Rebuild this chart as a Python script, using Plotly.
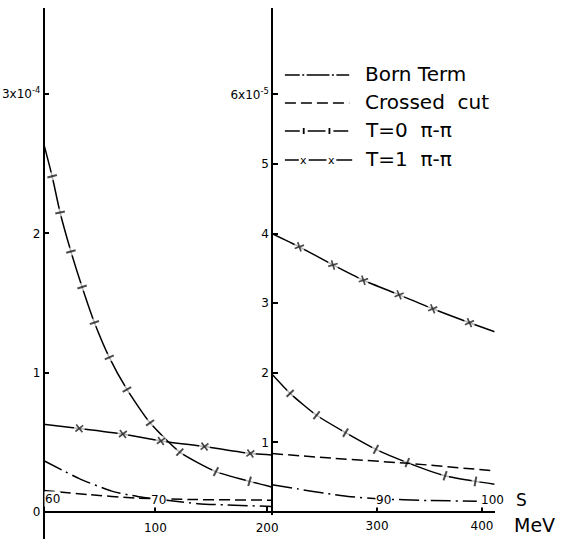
import plotly.graph_objects as go

W, H = 561, 539

# ---- data: left panel (units of 10^-4), s in MeV from 0 to 200 ----
s_t0_left = [0, 7.7, 14.8, 24.5, 34.5, 45.5, 58.8, 74.6, 95.3, 121.9, 154.2, 184.3, 204]
t0_left = [2.65, 2.41, 2.15, 1.87, 1.615, 1.36, 1.11, 0.88, 0.64, 0.43, 0.29, 0.22, 0.18]

s_t1_left = [0, 32, 71, 105, 144, 185, 204]
t1_left = [0.63, 0.60, 0.56, 0.51, 0.47, 0.42, 0.41]

s_cross_left = [0, 40, 82, 130, 204]
cross_left = [0.155, 0.125, 0.10, 0.09, 0.085]

s_born_left = [0, 32, 61, 85, 138, 204]
born_left = [0.37, 0.24, 0.15, 0.11, 0.06, 0.04]

# ---- data: right panel (units of 10^-5), s in MeV from 200 to ~410 ----
s_t1_right = [200, 226, 258, 287, 321, 353, 388, 412]
t1_right = [4.0, 3.81, 3.55, 3.33, 3.12, 2.92, 2.72, 2.59]

s_t0_right = [200, 217.2, 242.4, 270.0, 298.9, 328.8, 364.8, 393.7, 412]
t0_right = [1.98, 1.705, 1.39, 1.14, 0.90, 0.71, 0.52, 0.44, 0.40]

s_cross_right = [200, 260, 329, 412]
cross_right = [0.84, 0.77, 0.70, 0.59]

s_born_right = [200, 225, 250, 275, 300, 350, 395]
born_right = [0.39, 0.33, 0.27, 0.22, 0.19, 0.165, 0.155]

# angle labels written along the Born term curve
born_marks_left = ["60", "70"]
born_marks_left_s = [8, 103]
born_marks_left_v = [0.09, 0.085]
born_marks_right = ["90", "100"]
born_marks_right_s = [306, 410]
born_marks_right_v = [0.17, 0.17]

left_yticks = [0, 1, 2, 3]
left_ytext = ["0", "1", "2", "3x10<sup>-4</sup>"]
right_yticks = [1, 2, 3, 4, 5, 6]
right_ytext = ["1", "2", "3", "4", "5", "6x10<sup>-5</sup>"]
left_xticks = [100, 200]
right_xticks = [300, 400]

legend_names = ["Born Term", "Crossed  cut", "T=0  π-π", "T=1  π-π"]

# ---- styles ----
BORN_DASH = "20px,5px,2px,5px"
CROSS_DASH = "11px,5px"
LW = 1.5
FONT = "DejaVu Sans"


def px(x):
    return x / W


def py(y):
    return 1 - y / H


fig = go.Figure()


def line_trace(xs, ys, dash, xa, ya):
    fig.add_trace(go.Scatter(x=xs, y=ys, xaxis=xa, yaxis=ya, mode="lines",
                             line=dict(color="black", width=LW, dash=dash,
                                       shape="spline", smoothing=0.6),
                             showlegend=False, hoverinfo="skip"))


def gap_marks(xs, ys, xa, ya, gap, symbol, size, width):
    """Break the curve at each interior point and put a mark in the break."""
    inner = [0] + [1] * (len(xs) - 2) + [0]
    # white disc opens a break in the curve
    fig.add_trace(go.Scatter(x=xs, y=ys, xaxis=xa, yaxis=ya, mode="markers",
                             marker=dict(symbol="circle", color="white",
                                         size=[gap * k for k in inner],
                                         line=dict(width=0)),
                             showlegend=False, hoverinfo="skip"))
    fig.add_trace(go.Scatter(x=xs, y=ys, xaxis=xa, yaxis=ya, mode="markers",
                             marker=dict(symbol=symbol, angleref="previous",
                                         size=[size * k for k in inner],
                                         color="black",
                                         line=dict(color="black", width=width)),
                             showlegend=False, hoverinfo="skip"))


# T=0 pi-pi: long strokes with a short cross tick in every break
line_trace(s_t0_left, t0_left, "solid", "x", "y")
gap_marks(s_t0_left, t0_left, "x", "y", 8, "line-ew", 7, 2.0)
line_trace(s_t0_right, t0_right, "solid", "x2", "y2")
gap_marks(s_t0_right, t0_right, "x2", "y2", 8, "line-ew", 7, 2.0)

# T=1 pi-pi: solid curve broken by x marks
line_trace(s_t1_left, t1_left, "solid", "x", "y")
gap_marks(s_t1_left, t1_left, "x", "y", 11, "x-thin-open", 7, 1.7)
line_trace(s_t1_right, t1_right, "solid", "x2", "y2")
gap_marks(s_t1_right, t1_right, "x2", "y2", 11, "x-thin-open", 7, 1.7)

line_trace(s_cross_left, cross_left, CROSS_DASH, "x", "y")
line_trace(s_born_left, born_left, BORN_DASH, "x", "y")
line_trace(s_cross_right, cross_right, CROSS_DASH, "x2", "y2")
line_trace(s_born_right, born_right, BORN_DASH, "x2", "y2")

tickfont = dict(family=FONT, size=12, color="black")
axis_common = dict(showgrid=False, zeroline=False, showline=True,
                   linecolor="black", linewidth=1.6, ticks="inside",
                   ticklen=5, tickwidth=1.5, tickcolor="black",
                   tickfont=tickfont, fixedrange=True)

fig.update_layout(
    width=W, height=H,
    margin=dict(l=0, r=0, t=0, b=0),
    paper_bgcolor="white", plot_bgcolor="white",
    xaxis=dict(domain=[px(44), px(275)], range=[0, 204.4], anchor="free",
               position=27 / H, tickvals=left_xticks, ticklabelstandoff=5,
               **axis_common),
    xaxis2=dict(domain=[px(275), px(500)], range=[200, 412], anchor="free",
                position=27 / H, tickvals=right_xticks, ticklabelstandoff=3,
                **axis_common),
    yaxis=dict(domain=[0, 531 / H], range=[-27 / 139.3, 504 / 139.3],
               anchor="free", position=px(44), tickvals=left_yticks,
               ticktext=left_ytext, **axis_common),
    yaxis2=dict(domain=[24 / H, 531 / H], range=[-3 / 69.6, 504 / 69.6],
                anchor="free", position=px(275), tickvals=right_yticks,
                ticktext=right_ytext, **axis_common),
)

annotations = []
for t, s, v in zip(born_marks_left, born_marks_left_s, born_marks_left_v):
    annotations.append(dict(x=s, y=v, xref="x", yref="y", text=t, showarrow=False,
                            xanchor="center", yanchor="middle",
                            font=dict(family=FONT, size=12, color="black"),
                            bgcolor="white", borderpad=0))
for t, s, v in zip(born_marks_right, born_marks_right_s, born_marks_right_v):
    annotations.append(dict(x=s, y=v, xref="x2", yref="y2", text=t, showarrow=False,
                            xanchor="center", yanchor="middle",
                            font=dict(family=FONT, size=12, color="black"),
                            bgcolor="white", borderpad=0))

annotations.append(dict(x=px(527), y=py(500), xref="paper", yref="paper", text="S",
                        showarrow=False, xanchor="center", yanchor="middle",
                        font=dict(family=FONT, size=17, color="black")))
annotations.append(dict(x=px(518), y=py(525), xref="paper", yref="paper", text="MeV",
                        showarrow=False, xanchor="left", yanchor="middle",
                        font=dict(family=FONT, size=19, color="black")))

# hand-built key in the right panel
rows_y = [75, 103, 131, 160]
shapes = []


def seg(a, b, y, dash="solid"):
    shapes.append(dict(type="line", xref="paper", yref="paper",
                       x0=px(a), x1=px(b), y0=py(y), y1=py(y),
                       line=dict(color="black", width=LW, dash=dash)))


# Born term sample
for a, b in [(288, 303), (310, 333), (340, 353)]:
    seg(a, b, rows_y[0])
for d in [306.5, 336.5]:
    seg(d - 1, d + 1, rows_y[0])
# crossed cut sample
seg(288, 353, rows_y[1], CROSS_DASH)
# T=0 sample
for a, b in [(288, 303), (311, 329), (337, 352)]:
    seg(a, b, rows_y[2])
for t in [307, 333]:
    shapes.append(dict(type="line", xref="paper", yref="paper",
                       x0=px(t), x1=px(t), y0=py(rows_y[2] - 3), y1=py(rows_y[2] + 3),
                       line=dict(color="black", width=1.8)))
# T=1 sample
for a, b in [(288, 302), (312, 330), (340, 356)]:
    seg(a, b, rows_y[3])
for xx in [307, 335]:
    annotations.append(dict(x=px(xx), y=py(rows_y[3]), xref="paper", yref="paper",
                            text="x", showarrow=False, xanchor="center", yanchor="middle",
                            font=dict(family=FONT, size=11, color="black")))
for name, yy in zip(legend_names, rows_y):
    annotations.append(dict(x=px(367), y=py(yy - 1), xref="paper", yref="paper",
                            text=name, showarrow=False, xanchor="left", yanchor="middle",
                            font=dict(family=FONT, size=20, color="black")))

fig.update_layout(annotations=annotations, shapes=shapes)

fig.write_html("out.html")
